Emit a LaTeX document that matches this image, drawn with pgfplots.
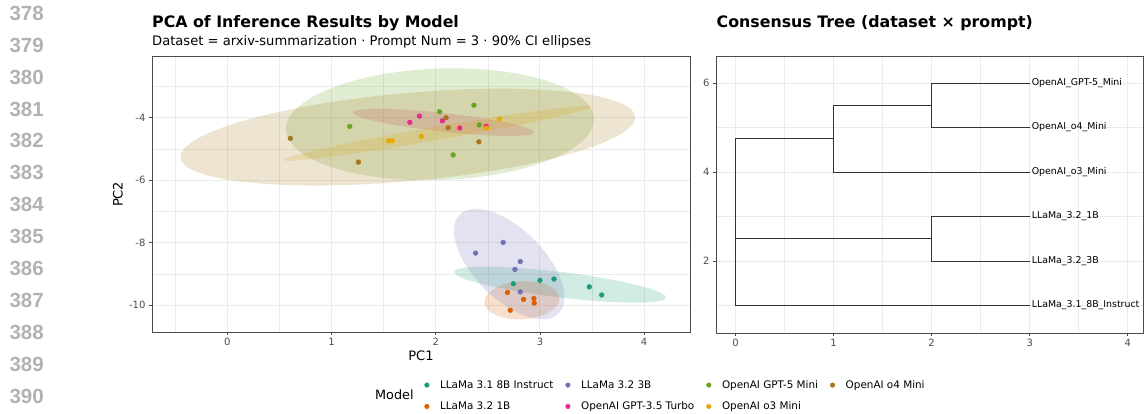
\documentclass[border=0pt]{standalone}
\usepackage{pgfplots}
\pgfplotsset{compat=1.18}
\usepackage{fontspec}
\setmainfont{DejaVu Sans}
\newfontfamily\numfont{Liberation Sans}
\definecolor{cA}{HTML}{1B9E77}
\definecolor{cB}{HTML}{D95F02}
\definecolor{cC}{HTML}{7570B3}
\definecolor{cD}{HTML}{E7298A}
\definecolor{cE}{HTML}{66A61E}
\definecolor{cF}{HTML}{E6AB02}
\definecolor{cG}{HTML}{A6761D}
\pgfplotsset{
  ggbase/.style={
    scale only axis,
    axis line style={black!70, line width=0.6pt},
    tick align=outside,
    major tick length=3pt,
    minor tick length=0pt,
    tick style={black!70, line width=0.6pt},
    xtick pos=left, ytick pos=left,
    grid=both,
    major grid style={color=black!8, line width=1pt},
    minor grid style={color=black!8, line width=0.5pt},
    ticklabel style={font=\fontsize{10}{11}\selectfont, text=black!70},
    /pgf/number format/assume math mode=true,
    label style={font=\fontsize{13}{15}\selectfont},
  }
}
\begin{document}
\begin{tikzpicture}
\path[use as bounding box] (0,0) rectangle (1144pt,-414pt);
% line numbers
\foreach \n [count=\i from 0] in {378,...,390} {
  \node[anchor=east, inner sep=0pt, font=\numfont\bfseries\fontsize{20.5}{21}\selectfont, text=black!30] at (44pt, {-13.3pt-31.9pt*\i}) {\n};
}
% titles
\node[anchor=base west, inner sep=0pt, font=\bfseries\fontsize{15.8}{18}\selectfont] at (152pt,-27.7pt) {PCA of Inference Results by Model};
\node[anchor=base west, inner sep=0pt, font=\fontsize{13.1}{15}\selectfont] at (152pt,-45.5pt) {Dataset = arxiv-summarization · Prompt Num = 3 · 90\% CI ellipses};
\node[anchor=base west, inner sep=0pt, font=\bfseries\fontsize{15.8}{18}\selectfont] at (716.5pt,-27.7pt) {Consensus Tree (dataset × prompt)};
\node[anchor=base west, inner sep=0pt, font=\fontsize{12.8}{14}\selectfont] at (375pt,-399.3pt) {Model};

% ---------------- PCA panel ----------------
\begin{axis}[ggbase,
  at={(152pt,-332pt)}, anchor=south west,
  width=538pt, height=275.3pt,
  xmin=-0.7226, xmax=4.44, ymin=-10.854, ymax=-2.049,
  xtick={0,1,2,3,4}, minor xtick={-0.5,0.5,1.5,2.5,3.5},
  ytick={-10,-8,-6,-4}, minor ytick={-9,-7,-5,-3},
  xlabel={PC1}, ylabel={PC2},
  xlabel style={at={(axis description cs:0.5,-0.0872)}, anchor=center},
  ylabel style={at={(axis description cs:-0.0632,0.5)}, anchor=center},
  legend columns=4,
  legend image code/.code={\fill[#1] (0pt,0pt) circle (2.3pt); \path (11pt,0pt);},
  legend style={draw=none, fill=none, inner sep=0pt, outer sep=0pt,
    at={(axis description cs:0.5063,-0.2316)}, anchor=west,
    font=\fontsize{10.4}{12}\selectfont,
    row sep=8.4pt,
    cells={anchor=west, inner sep=0pt, text height=0.75em, text depth=0.25em},
    /tikz/every even column/.append style={column sep=10pt}},
]
% ellipses (90% CI)
\addplot[forget plot, draw=none, fill=cA, fill opacity=0.2, domain=0:360, samples=90] ({3.192+1.016*cos(x)-0.015*sin(x)}, {-9.34-0.411*cos(x)-0.403*sin(x)});
\addplot[forget plot, draw=none, fill=cB, fill opacity=0.2, domain=0:360, samples=90] ({2.827+0.359*cos(x)}, {-9.84+0.053*cos(x)-0.608*sin(x)});
\addplot[forget plot, draw=none, fill=cC, fill opacity=0.2, domain=0:360, samples=90] ({2.705+0.474*cos(x)+0.237*sin(x)}, {-8.68-1.579*cos(x)+0.788*sin(x)});
\addplot[forget plot, draw=none, fill=cD, fill opacity=0.2, domain=0:360, samples=90] ({2.075+0.869*cos(x)-0.011*sin(x)}, {-4.15-0.32*cos(x)-0.297*sin(x)});
\addplot[forget plot, draw=none, fill=cE, fill opacity=0.2, domain=0:360, samples=90] ({2.040+1.477*cos(x)+0.023*sin(x)}, {-4.21+0.181*cos(x)-1.781*sin(x)});
\addplot[forget plot, draw=none, fill=cF, fill opacity=0.2, domain=0:360, samples=90] ({2.016+1.473*cos(x)+0.013*sin(x)}, {-4.50+0.853*cos(x)-0.210*sin(x)});
\addplot[forget plot, draw=none, fill=cG, fill opacity=0.2, domain=0:360, samples=90] ({1.732+2.181*cos(x)+0.044*sin(x)}, {-4.62+0.661*cos(x)-1.402*sin(x)});
% points
\addplot[forget plot, only marks, mark=*, mark size=2.4pt, cA] coordinates {(2.744,-9.31) (3.000,-9.20) (3.135,-9.16) (3.474,-9.41) (3.593,-9.67)};
\addplot[forget plot, only marks, mark=*, mark size=2.4pt, cB] coordinates {(2.689,-9.59) (2.843,-9.81) (2.942,-9.78) (2.945,-9.93) (2.715,-10.16)};
\addplot[forget plot, only marks, mark=*, mark size=2.4pt, cC] coordinates {(2.382,-8.33) (2.647,-7.99) (2.811,-8.60) (2.760,-8.85) (2.811,-9.57)};
\addplot[forget plot, only marks, mark=*, mark size=2.4pt, cD] coordinates {(1.752,-4.15) (1.844,-3.95) (2.064,-4.10) (2.230,-4.33) (2.484,-4.27)};
\addplot[forget plot, only marks, mark=*, mark size=2.4pt, cE] coordinates {(1.175,-4.28) (2.037,-3.81) (2.367,-3.60) (2.418,-4.23) (2.167,-5.19)};
\addplot[forget plot, only marks, mark=*, mark size=2.4pt, cF] coordinates {(1.549,-4.74) (1.584,-4.74) (1.862,-4.60) (2.487,-4.34) (2.611,-4.04)};
\addplot[forget plot, only marks, mark=*, mark size=2.4pt, cG] coordinates {(0.605,-4.66) (1.258,-5.42) (2.099,-4.00) (2.119,-4.32) (2.414,-4.77)};
% legend (row-wise order reproducing column-wise ggplot legend)
\addlegendimage{cA}\addlegendentry{LLaMa 3.1 8B Instruct}
\addlegendimage{cC}\addlegendentry{LLaMa 3.2 3B}
\addlegendimage{cE}\addlegendentry{OpenAI GPT-5 Mini}
\addlegendimage{cG}\addlegendentry{OpenAI o4 Mini}
\addlegendimage{cB}\addlegendentry{LLaMa 3.2 1B}
\addlegendimage{cD}\addlegendentry{OpenAI GPT-3.5 Turbo}
\addlegendimage{cF}\addlegendentry{OpenAI o3 Mini}
\end{axis}

% ---------------- Dendrogram panel ----------------
\begin{axis}[ggbase,
  at={(716pt,-333pt)}, anchor=south west,
  width=427pt, height=277pt,
  xmin=-0.2, xmax=4.156, ymin=0.382, ymax=6.607,
  xtick={0,1,2,3,4}, minor xtick={0.5,1.5,2.5,3.5},
  ytick={2,4,6}, minor ytick={1,3,5},
  clip=false,
]
\addplot[black!80, line width=0.7pt] coordinates {(3,6) (2,6) (2,5) (3,5)};
\addplot[black!80, line width=0.7pt] coordinates {(2,5.5) (1,5.5) (1,4) (3,4)};
\addplot[black!80, line width=0.7pt] coordinates {(3,3) (2,3) (2,2) (3,2)};
\addplot[black!80, line width=0.7pt] coordinates {(2,2.5) (0,2.5)};
\addplot[black!80, line width=0.7pt] coordinates {(3,1) (0,1) (0,4.75) (1,4.75)};
\begin{scope}[every node/.style={anchor=west, inner sep=0pt, font=\fontsize{9.4}{11}\selectfont}]
\node at (axis cs:3.02,6) {OpenAI\_GPT-5\_Mini};
\node at (axis cs:3.02,5) {OpenAI\_o4\_Mini};
\node at (axis cs:3.02,4) {OpenAI\_o3\_Mini};
\node at (axis cs:3.02,3) {LLaMa\_3.2\_1B};
\node at (axis cs:3.02,2) {LLaMa\_3.2\_3B};
\node at (axis cs:3.02,1) {LLaMa\_3.1\_8B\_Instruct};
\end{scope}
\end{axis}
\end{tikzpicture}
\end{document}
